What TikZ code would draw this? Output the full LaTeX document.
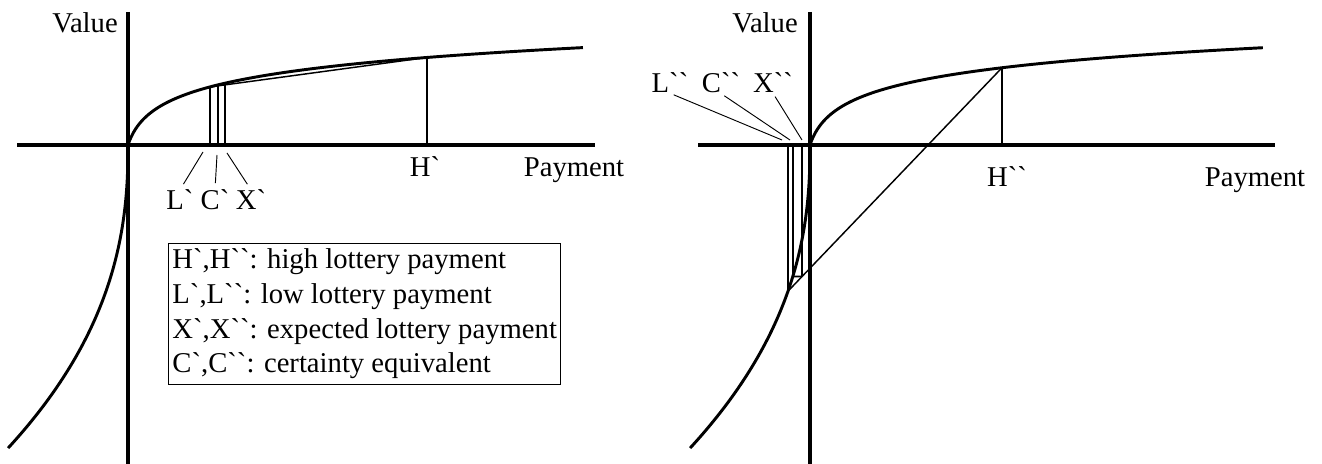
\documentclass[tikz,border=0pt]{standalone}
\usepackage{fontspec}
\setmainfont{Liberation Serif}[Ligatures=TeXOff]
\usetikzlibrary{calc}

\begin{document}
\begin{tikzpicture}[x=0.75pt, y=0.75pt,
  declare function={vgain(\x)=24*ln(1+\x/8); vloss(\x)=38.7*(\x)^0.43;},
  axisline/.style={line width=2.4pt},
  valcurve/.style={line width=2.2pt, line join=round},
  guide/.style={line width=1.4pt},
  chord/.style={line width=1.1pt},
  leader/.style={line width=0.7pt},
  lbl/.style={inner sep=0pt, font=\rmfamily\fontsize{21.5}{26}\selectfont}]
\useasboundingbox (0,0) rectangle (1322,464);

% left: gains, L` and H` both positive
\begin{scope}[shift={(128,319)}]
\coordinate (O1) at (0,0);
\draw[axisline] (-111,0) -- (467,0);
\draw[axisline] (0,133) -- (0,-319);
\draw[valcurve] plot[variable=\s, domain=10.95:0.05, samples=90] ({-\s*\s},{-vloss(\s*\s)})
  -- (O1) -- plot[variable=\s, domain=0:21.33, samples=90] ({\s*\s},{vgain(\s*\s)});
\node[lbl, anchor=east] (val1) at (-10,122) {Value};
\node[lbl, anchor=base] (pay1) at (446,-32) {Payment};
\coordinate (L1) at (82,{vgain(82)});
\coordinate (C1) at (90,{vgain(90)});
\coordinate (H1) at (299,{vgain(299)});
\coordinate (X1) at ($(L1)!15/217!(H1)$);
\draw[chord] (L1) -- (H1);
\foreach \p in {L1,C1,X1,H1}
  \draw[guide] (\p) -- (\p |- O1);
\node[lbl, anchor=base] (lblH1) at (297,-32) {H`};
\node[lbl, anchor=base] (lblL1) at (52,-65) {L`};
\node[lbl, anchor=base] (lblC1) at (87,-65) {C`};
\node[lbl, anchor=base] (lblX1) at (123,-65) {X`};
\coordinate (tipL1) at (75,-7);
\coordinate (tipC1) at (89,-10);
\coordinate (tipX1) at (99,-8);
\foreach \p in {L1,C1,X1}
  \draw[leader, shorten >=5pt] (tip\p) -- (lbl\p.north);
\node[lbl, draw, line width=0.7pt, inner xsep=3pt, inner ysep=4pt, align=left,
  anchor=north west] (legend) at (40,-98)
  {H`,H``: high lottery payment\\
   L`,L``: low lottery payment\\
   X`,X``: expected lottery payment\\
   C`,C``: certainty equivalent};
\end{scope}

% right: mixed lottery, L`` is a loss
\begin{scope}[shift={(810,319)}]
\coordinate (O2) at (0,0);
\draw[axisline] (-112,0) -- (465,0);
\draw[axisline] (0,133) -- (0,-319);
\draw[valcurve] plot[variable=\s, domain=10.95:0.05, samples=90] ({-\s*\s},{-vloss(\s*\s)})
  -- (O2) -- plot[variable=\s, domain=0:21.28, samples=90] ({\s*\s},{vgain(\s*\s)});
\node[lbl, anchor=east] (val2) at (-12,122) {Value};
\node[lbl, anchor=base] (pay2) at (445,-42) {Payment};
\coordinate (L2) at (-22,{-vloss(22)});
\coordinate (C2) at (-17.2,{-vloss(17.2)});
\coordinate (H2) at (192,{vgain(192)});
\coordinate (X2) at ($(L2)!14/214!(H2)$);
\draw[chord] (L2) -- (H2);
\foreach \p in {L2,C2,X2,H2}
  \draw[guide] (\p) -- (\p |- O2);
\draw[guide] (X2) -- (C2);
\node[lbl, anchor=base] (lblH2) at (197,-42) {H``};
\node[lbl, anchor=base] (lblL2) at (-140,52) {L``};
\node[lbl, anchor=base] (lblC2) at (-89,52) {C``};
\node[lbl, anchor=base] (lblX2) at (-37,52) {X``};
\coordinate (tipL2) at (-28,5);
\coordinate (tipC2) at (-20,5);
\coordinate (tipX2) at (-8,5);
\foreach \p in {L2,C2,X2}
  \draw[leader, shorten <=3pt] (lbl\p.south) -- (tip\p);
\end{scope}
\end{tikzpicture}
\end{document}
